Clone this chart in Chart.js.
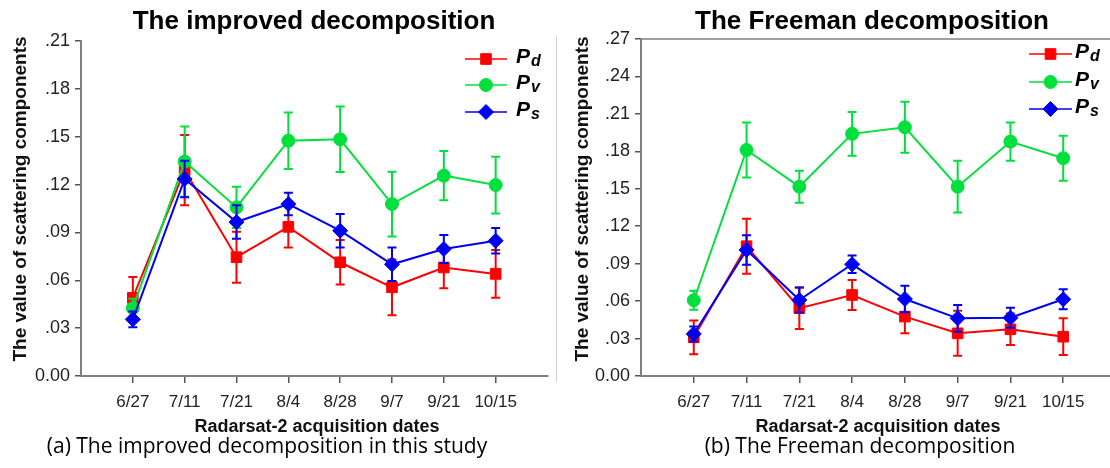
<!DOCTYPE html>
<html><head><meta charset="utf-8">
<script src="https://cdn.jsdelivr.net/npm/chart.js@4/dist/chart.umd.min.js"></script>
<style>
html,body{margin:0;padding:0;background:#fff;overflow:hidden;width:1110px;height:468px;position:relative;}
#wrapL{position:absolute;left:0;top:0;width:556px;height:468px;}
#wrapR{position:absolute;left:555px;top:0;width:570px;height:468px;}
#sep{position:absolute;left:556px;top:36px;width:1px;height:346px;background:#cfcfcf;}
</style></head><body>
<div id="wrapL"><canvas id="cL" width="556" height="468"></canvas></div>
<div id="sep"></div>
<div id="wrapR"><canvas id="cR" width="570" height="468"></canvas></div>
<script>
// ---------- data ----------
const categories = ['6/27','7/11','7/21','8/4','8/28','9/7','9/21','10/15'];
const legendLetters = ['d','v','s'];

// (a) improved decomposition
const improvedPd    = [0.049, 0.129, 0.0745, 0.0935, 0.0713, 0.0556, 0.068, 0.064];
const improvedPdErr = [0.013, 0.022, 0.016, 0.013, 0.014, 0.0175, 0.013, 0.015];
const improvedPv    = [0.0425, 0.1344, 0.1057, 0.1475, 0.1484, 0.1078, 0.1256, 0.1197];
const improvedPvErr = [0.006, 0.022, 0.013, 0.0177, 0.0205, 0.0203, 0.0154, 0.0178];
const improvedPs    = [0.0355, 0.1235, 0.0965, 0.1078, 0.0911, 0.070, 0.0796, 0.0848];
const improvedPsErr = [0.005, 0.0115, 0.0105, 0.0071, 0.0105, 0.0105, 0.0088, 0.008];

// (b) Freeman decomposition
const freemanPd    = [0.031, 0.104, 0.0543, 0.0649, 0.0476, 0.0342, 0.0374, 0.0315];
const freemanPdErr = [0.0135, 0.022, 0.0166, 0.012, 0.0134, 0.018, 0.0126, 0.0147];
const freemanPv    = [0.0607, 0.1811, 0.1517, 0.194, 0.1993, 0.1517, 0.1878, 0.1745];
const freemanPvErr = [0.0076, 0.022, 0.0128, 0.0175, 0.0205, 0.0207, 0.0153, 0.018];
const freemanPs    = [0.0337, 0.101, 0.0609, 0.0895, 0.0617, 0.0462, 0.0467, 0.0615];
const freemanPsErr = [0.006, 0.0118, 0.010, 0.007, 0.0107, 0.0107, 0.008, 0.008];

const yTicksLeft  = [0, 0.03, 0.06, 0.09, 0.12, 0.15, 0.18, 0.21];
const yLabelsLeft = ['0.00', '.03', '.06', '.09', '.12', '.15', '.18', '.21'];
const yTicksRight  = [0, 0.03, 0.06, 0.09, 0.12, 0.15, 0.18, 0.21, 0.24, 0.27];
const yLabelsRight = ['0.00', '.03', '.06', '.09', '.12', '.15', '.18', '.21', '.24', '.27'];

// ---------- styling ----------
const FONT = "'Liberation Sans', Arial, sans-serif";
Chart.defaults.font.family = FONT;
const RED = '#ff0000', GREEN = '#00e03c', BLUE = '#0000f0';

function toPts(arr){ return arr.map((v,i)=>({x:i, y:v})); }

const decorPlugin = {
  id: 'decor',
  beforeDatasetDraw(chart, args, opts){
    const ds = chart.data.datasets[args.index];
    const xs = chart.scales.x, ys = chart.scales.y, ctx = chart.ctx;
    ctx.save();
    ctx.strokeStyle = ds.borderColor;
    ctx.lineWidth = 2;
    ds.data.forEach((p,i)=>{
      const e = ds.errors[i];
      const x = xs.getPixelForValue(p.x);
      const y1 = ys.getPixelForValue(p.y + e), y2 = ys.getPixelForValue(p.y - e);
      ctx.beginPath();
      ctx.moveTo(x, y1); ctx.lineTo(x, y2);
      ctx.moveTo(x-4.5, y1); ctx.lineTo(x+4.5, y1);
      ctx.moveTo(x-4.5, y2); ctx.lineTo(x+4.5, y2);
      ctx.stroke();
    });
    ctx.restore();
  },
  afterDraw(chart, args, o){
    const ctx = chart.ctx, ca = chart.chartArea;
    ctx.save();
    ctx.fillStyle = '#000';
    if (o.topBorder){
      ctx.strokeStyle = '#808080'; ctx.lineWidth = 1.5;
      ctx.beginPath(); ctx.moveTo(ca.left, ca.top); ctx.lineTo(chart.width, ca.top); ctx.stroke();
    }
    ctx.textAlign = 'center'; ctx.textBaseline = 'middle';
    ctx.font = 'bold 26px ' + FONT;
    ctx.fillText(o.title, o.titleX, o.titleY);
    ctx.font = 'bold 18px ' + FONT;
    ctx.fillStyle = '#111';
    ctx.fillText(o.xTitle, o.xTitleX, o.xTitleY);
    ctx.save();
    ctx.translate(o.yTitleX, o.yTitleY);
    ctx.rotate(-Math.PI/2);
    ctx.font = 'bold 19px ' + FONT;
    ctx.fillText(o.yTitle, 0, 0);
    ctx.restore();
    ctx.fillStyle = '#000';
    ctx.font = "21px 'Open Sans', 'Noto Sans', sans-serif";
    ctx.fillText(o.caption, o.captionX, o.captionY);
    chart.data.datasets.forEach((ds,k)=>{
      const y = o.legendY[k];
      ctx.strokeStyle = ds.borderColor; ctx.lineWidth = 1.5;
      ctx.beginPath(); ctx.moveTo(o.legendX1, y); ctx.lineTo(o.legendX2, y); ctx.stroke();
      ctx.fillStyle = ds.pointBackgroundColor; ctx.strokeStyle = ds.pointBorderColor; ctx.lineWidth = 1;
      Chart.helpers.drawPoint(ctx, {pointStyle: ds.pointStyle, radius: ds.pointRadius, rotation: 0, borderWidth: 1},
        (o.legendX1+o.legendX2)/2, y);
      ctx.fillStyle = '#000';
      ctx.textAlign = 'left'; ctx.textBaseline = 'middle';
      ctx.font = 'italic bold 21px ' + FONT;
      ctx.fillText('P', o.legendTextX, y - 2);
      const w = ctx.measureText('P').width;
      ctx.font = 'italic bold 16px ' + FONT;
      ctx.fillText(legendLetters[k], o.legendTextX + w + 1, y + 3);
    });
    ctx.restore();
  }
};

function makeChart(id, cfg){
  const mk = (label, vals, errs, color, style, radius, order) => ({
    label, data: toPts(vals), errors: errs,
    borderColor: color, backgroundColor: color,
    pointBackgroundColor: color, pointBorderColor: color,
    pointStyle: style, pointRadius: radius, pointHoverRadius: radius,
    pointBorderWidth: 1, borderWidth: 2, order, tension: 0
  });
  return new Chart(document.getElementById(id), {
    type: 'line',
    data: { datasets: [
      mk('Pd', cfg.pd, cfg.pdErr, RED, 'rect', 7.5, 3),
      mk('Pv', cfg.pv, cfg.pvErr, GREEN, 'circle', 6.5, 2),
      mk('Ps', cfg.ps, cfg.psErr, BLUE, 'rectRot', 7.5, 1)
    ]},
    options: {
      responsive: false, animation: false,
      events: [],
      layout: { padding: { left: 0, right: cfg.padRight, top: cfg.padTop, bottom: 0 } },
      plugins: { legend: { display: false }, tooltip: { enabled: false }, decor: cfg.decor },
      scales: {
        x: {
          type: 'linear', min: -1, max: 8,
          afterBuildTicks: s => { s.ticks = categories.map((c,i)=>({value:i})); },
          afterFit: s => { s.height = 92; },
          ticks: { autoSkip: false, maxRotation: 0, padding: 9, color: '#222',
                   font: { size: 17 }, callback: v => categories[v] },
          grid: { display: true, drawOnChartArea: false, drawTicks: true, tickLength: 7, color: '#555', lineWidth: 1.5 },
          border: { display: true, color: '#808080', width: 2 }
        },
        y: {
          min: 0, max: cfg.yMax,
          afterBuildTicks: s => { s.ticks = cfg.yTicks.map(v=>({value:v})); },
          afterFit: s => { s.width = cfg.yWidth; },
          ticks: { autoSkip: false, padding: 5, color: '#222', font: { size: 18 },
                   callback: (v, i) => cfg.yLabels[i] },
          grid: { display: true, drawOnChartArea: false, drawTicks: true, tickLength: 6, color: '#555', lineWidth: 1.5 },
          border: { display: true, color: '#808080', width: 2 }
        }
      }
    },
    plugins: [decorPlugin]
  });
}

makeChart('cL', {
  pd: improvedPd, pdErr: improvedPdErr, pv: improvedPv, pvErr: improvedPvErr, ps: improvedPs, psErr: improvedPsErr,
  yMax: 0.21, yTicks: yTicksLeft, yLabels: yLabelsLeft, yWidth: 81, padRight: 3, padTop: 41,
  decor: {
    title: 'The improved decomposition', titleX: 314, titleY: 22,
    xTitle: 'Radarsat-2 acquisition dates', xTitleX: 317, xTitleY: 427,
    yTitle: 'The value of scattering components', yTitleX: 21, yTitleY: 199,
    caption: '(a) The improved decomposition in this study', captionX: 267, captionY: 447,
    legendX1: 465, legendX2: 507, legendTextX: 516, legendY: [59, 85, 112],
    topBorder: false
  }
});

makeChart('cR', {
  pd: freemanPd, pdErr: freemanPdErr, pv: freemanPv, pvErr: freemanPvErr, ps: freemanPs, psErr: freemanPsErr,
  yMax: 0.27, yTicks: yTicksRight, yLabels: yLabelsRight, yWidth: 86, padRight: 9, padTop: 39,
  decor: {
    title: 'The Freeman decomposition', titleX: 317, titleY: 22,
    xTitle: 'Radarsat-2 acquisition dates', xTitleX: 323, xTitleY: 427,
    yTitle: 'The value of scattering components', yTitleX: 28, yTitleY: 199,
    caption: '(b) The Freeman decomposition', captionX: 305, captionY: 447,
    legendX1: 474, legendX2: 517, legendTextX: 520, legendY: [54, 82, 109],
    topBorder: true
  }
});
</script>
</body></html>
